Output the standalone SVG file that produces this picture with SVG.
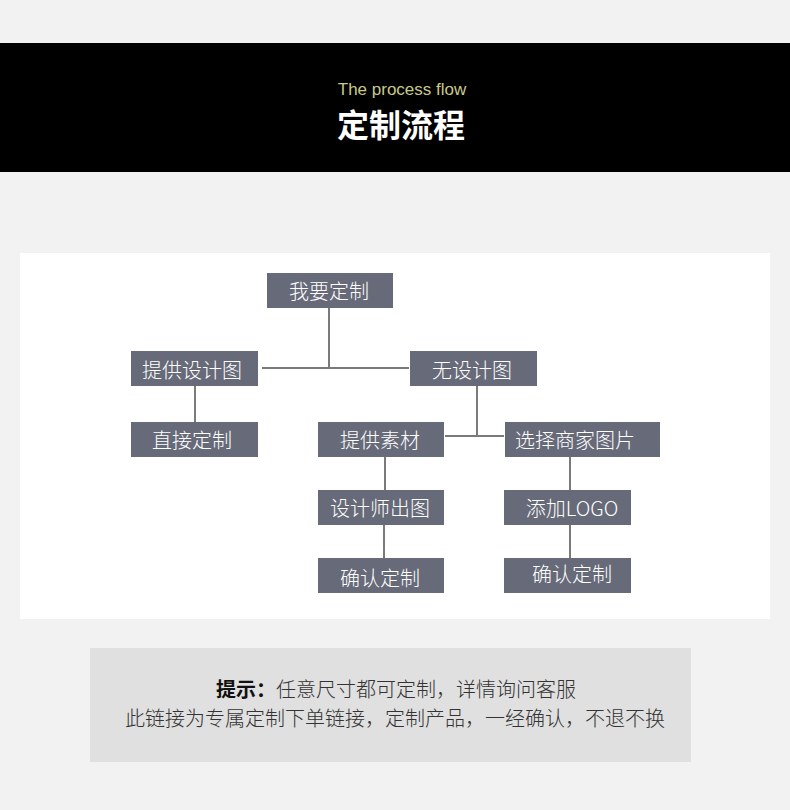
<svg xmlns="http://www.w3.org/2000/svg" width="790" height="810" viewBox="0 0 790 810">
<style>
.node rect{fill:#676a79;}
.node text{fill:#ffffff;font-family:"Noto Sans CJK SC","Noto Sans",sans-serif;font-size:20px;font-weight:300;text-anchor:middle;dominant-baseline:central;}
.conn line{stroke:#7a7a7a;stroke-width:2;}
.note{font-family:"Noto Sans CJK SC","Noto Sans",sans-serif;font-size:20px;font-weight:300;fill:#333333;text-anchor:middle;}
</style>
<rect x="0" y="0" width="790" height="810" fill="#f2f2f2"/>
<rect x="0" y="43" width="790" height="129" fill="#000000"/>
<text x="402" y="95" font-family="'Liberation Sans','Noto Sans',sans-serif" font-size="17" fill="#c9c98c" text-anchor="middle">The process flow</text>
<text x="401" y="137" font-family="'Noto Sans CJK SC',sans-serif" font-size="32" font-weight="bold" fill="#ffffff" text-anchor="middle">定制流程</text>
<rect x="20" y="253" width="750" height="366" fill="#ffffff"/>
<g class="conn">
<line x1="329" y1="308" x2="329" y2="369"/>
<line x1="262" y1="368" x2="409" y2="368"/>
<line x1="195" y1="386" x2="195" y2="422"/>
<line x1="477" y1="386" x2="477" y2="437"/>
<line x1="445" y1="436" x2="504" y2="436"/>
<line x1="385" y1="457" x2="385" y2="490"/>
<line x1="384" y1="525" x2="384" y2="558"/>
<line x1="570" y1="457" x2="570" y2="490"/>
<line x1="570" y1="525" x2="570" y2="558"/>
</g>
<g id="n1" class="node"><rect x="267" y="273" width="126" height="35"/><text x="329" y="290">我要定制</text></g>
<g id="n2" class="node"><rect x="131" y="351" width="127" height="35"/><text x="192" y="369">提供设计图</text></g>
<g id="n3" class="node"><rect x="410" y="351" width="127" height="35"/><text x="472" y="369">无设计图</text></g>
<g id="n4" class="node"><rect x="131" y="422" width="127" height="35"/><text x="192" y="439">直接定制</text></g>
<g id="n5" class="node"><rect x="318" y="422" width="126" height="35"/><text x="380" y="439">提供素材</text></g>
<g id="n6" class="node"><rect x="505" y="422" width="155" height="35"/><text x="575" y="439">选择商家图片</text></g>
<g id="n7" class="node"><rect x="318" y="490" width="126" height="35"/><text x="380" y="507">设计师出图</text></g>
<g id="n8" class="node"><rect x="504" y="490" width="127" height="35"/><text x="572" y="507">添加LOGO</text></g>
<g id="n9" class="node"><rect x="318" y="558" width="126" height="35"/><text x="380" y="577">确认定制</text></g>
<g id="n10" class="node"><rect x="504" y="558" width="127" height="35"/><text x="572" y="573">确认定制</text></g>
<rect x="90" y="648" width="601" height="114" fill="#e0e0e0"/>
<text class="note" x="396" y="697"><tspan font-weight="bold" fill="#111">提示：</tspan>任意尺寸都可定制，详情询问客服</text>
<text class="note" x="395" y="726">此链接为专属定制下单链接，定制产品，一经确认，不退不换</text>
</svg>
